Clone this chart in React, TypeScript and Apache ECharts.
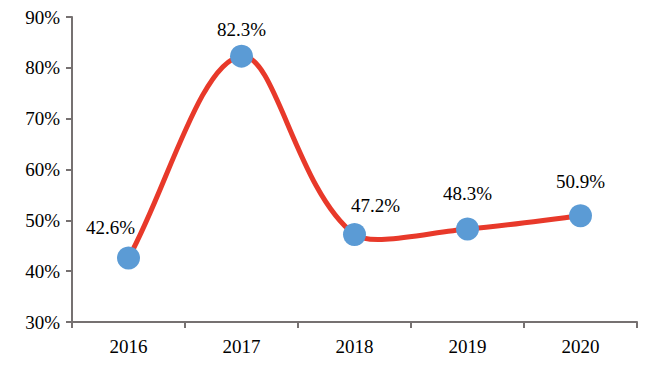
import React, { useEffect, useRef } from "react";
import * as echarts from "echarts";

const categories = ["2016", "2017", "2018", "2019", "2020"];
const values = [42.6, 82.3, 47.2, 48.3, 50.9];
const labelOffsets: [number, number][] = [
  [-18, 1],
  [0, 4],
  [21, 2],
  [0, -4],
  [0, -3],
];

const SMOOTH = 0.33;

function handles(pts: number[][], i: number) {
  const n = pts.length;
  const prev = pts[Math.max(0, i - 1)];
  const cur = pts[i];
  const next = pts[Math.min(n - 1, i + 1)];
  const vx = next[0] - prev[0];
  const vy = next[1] - prev[1];
  const dp = Math.hypot(cur[0] - prev[0], cur[1] - prev[1]);
  const dn = Math.hypot(next[0] - cur[0], next[1] - cur[1]);
  const sum = dp * dp + dn * dn || 1;
  const rn = (dn * dn) / sum;
  const rp = (dp * dp) / sum;
  return {
    inC: [cur[0] - vx * SMOOTH * rp, cur[1] - vy * SMOOTH * rp],
    outC: [cur[0] + vx * SMOOTH * rn, cur[1] + vy * SMOOTH * rn],
  };
}

export default function App() {
  const ref = useRef<HTMLDivElement>(null);
  useEffect(() => {
    if (!ref.current) return;
    const chart = echarts.init(ref.current, undefined, { renderer: "svg" });
    const font = "Liberation Serif";
    const axisColor = "#767171";
    chart.setOption({
      animation: false,
      textStyle: { fontFamily: font },
      grid: { left: 72, top: 17, right: 17, bottom: 45 },
      xAxis: {
        type: "category",
        data: categories,
        boundaryGap: true,
        axisLine: { lineStyle: { color: axisColor, width: 2 } },
        axisTick: { show: true, length: 6, lineStyle: { color: axisColor, width: 2 } },
        axisLabel: { color: "#000", fontFamily: font, fontSize: 19, margin: 15 },
      },
      yAxis: {
        type: "value",
        min: 30,
        max: 90,
        interval: 10,
        axisLine: { show: true, lineStyle: { color: axisColor, width: 2 } },
        axisTick: { show: true, length: 6, lineStyle: { color: axisColor, width: 2 } },
        splitLine: { show: false },
        axisLabel: {
          color: "#000",
          fontFamily: font,
          fontSize: 19,
          margin: 12,
          formatter: (v: number) => v + "%",
        },
      },
      series: [
        {
          type: "custom",
          z: 2,
          silent: true,
          clip: false,
          data: values.map((v, i) => [i, v]),
          renderItem: (params: any, api: any) => {
            const i = params.dataIndex;
            if (i >= values.length - 1) return null;
            const pts = values.map((v, k) => api.coord([k, v]));
            const a = handles(pts, i);
            const b = handles(pts, i + 1);
            const p0 = pts[i];
            const p1 = pts[i + 1];
            return {
              type: "bezierCurve",
              shape: {
                x1: p0[0],
                y1: p0[1],
                cpx1: a.outC[0],
                cpy1: a.outC[1],
                cpx2: b.inC[0],
                cpy2: b.inC[1],
                x2: p1[0],
                y2: p1[1],
              },
              style: { stroke: "#E8392A", lineWidth: 5, fill: null, lineCap: "round" },
            };
          },
        },
        {
          type: "scatter",
          z: 3,
          data: values.map((v, i) => ({
            value: v,
            label: { offset: labelOffsets[i] },
          })),
          symbol: "circle",
          symbolSize: 23,
          itemStyle: { color: "#5B9BD5", opacity: 1 },
          label: {
            show: true,
            position: "top",
            distance: 10,
            color: "#000",
            fontFamily: font,
            fontSize: 19,
            formatter: (p: any) => p.value.toFixed(1) + "%",
          },
        },
      ],
    });
    return () => chart.dispose();
  }, []);
  return (
    <div
      ref={ref}
      style={{ position: "fixed", left: 0, top: 0, width: 654, height: 367, background: "#fff" }}
    />
  );
}
